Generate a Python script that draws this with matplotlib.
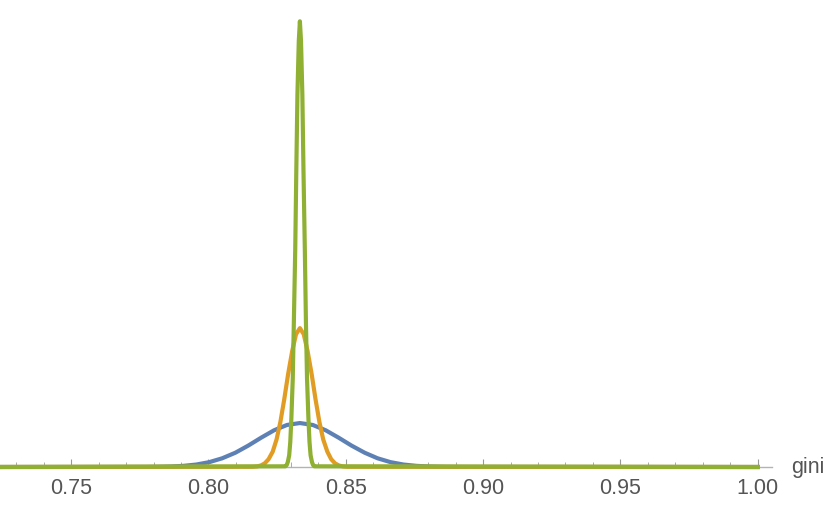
import matplotlib
matplotlib.use('Agg')
import matplotlib.pyplot as plt
from matplotlib.ticker import MultipleLocator

# values (y has no scale, arbitrary density units)
blue_x = [0.72, 0.7768, 0.7815, 0.7862, 0.7909, 0.7956, 0.8003, 0.8050, 0.8098, 0.8145,
          0.8192, 0.8239, 0.8286, 0.8333, 0.8380, 0.8427, 0.8474, 0.8521, 0.8569, 0.8616,
          0.8663, 0.8710, 0.8757, 0.8804, 0.8851, 0.8898, 1.00]
blue_y = [0.0, 0.04, 0.12, 0.32, 0.75, 1.62, 3.19, 5.72, 9.38, 14.07,
          19.28, 24.14, 27.63, 28.90, 27.63, 24.14, 19.28, 14.07, 9.38, 5.72,
          3.19, 1.62, 0.75, 0.32, 0.12, 0.04, 0.0]

orange_x = [0.72, 0.8162, 0.8177, 0.8191, 0.8205, 0.8219, 0.8234, 0.8248, 0.8262, 0.8276,
            0.8290, 0.8305, 0.8319, 0.8333, 0.8347, 0.8361, 0.8376, 0.8390, 0.8404, 0.8418,
            0.8433, 0.8447, 0.8461, 0.8475, 0.8489, 0.8504, 1.00]
orange_y = [0.0, 0.14, 0.39, 1.01, 2.38, 5.12, 10.07, 18.07, 29.64, 44.44,
            60.90, 76.26, 87.28, 91.30, 87.28, 76.26, 60.90, 44.44, 29.64, 18.07,
            10.07, 5.12, 2.38, 1.01, 0.39, 0.14, 0.0]

green_x = [0.72, 0.8280, 0.8285, 0.8289, 0.8294, 0.8298, 0.8302, 0.8307, 0.8311, 0.8316,
           0.8320, 0.8324, 0.8329, 0.8333, 0.8337, 0.8342, 0.8346, 0.8351, 0.8355, 0.8359,
           0.8364, 0.8368, 0.8372, 0.8377, 0.8381, 0.8386, 1.00]
green_y = [0.0, 0.45, 1.27, 3.26, 7.65, 16.4, 32.3, 58.0, 95.1, 142.6,
           195.4, 244.7, 280.1, 293.0, 280.1, 244.7, 195.4, 142.6, 95.1, 58.0,
           32.3, 16.4, 7.65, 3.26, 1.27, 0.45, 0.0]

COLORS = ['#5E81B5', '#E19C24', '#8FB032']

plt.rcParams['font.family'] = ['Liberation Sans', 'DejaVu Sans']

fig = plt.figure(figsize=(8.3, 5.08), dpi=100)
ax = fig.add_axes([0.0, 41 / 508, 771.7 / 830, 467 / 508])

for xs, ys, c in zip([blue_x, orange_x, green_x], [blue_y, orange_y, green_y], COLORS):
    ax.plot(xs, ys, color=c, lw=3.0, clip_on=False, solid_joinstyle='round')

ax.set_xlim(0.7241, 1.0051)
ax.set_ylim(0, 307)

for s in ['top', 'right', 'left']:
    ax.spines[s].set_visible(False)
ax.spines['bottom'].set_color('#b3b3b3')
ax.spines['bottom'].set_linewidth(1.0)
ax.spines['bottom'].set_zorder(0)
ax.set_yticks([])

ax.xaxis.set_major_locator(MultipleLocator(0.05))
ax.xaxis.set_minor_locator(MultipleLocator(0.01))
ax.xaxis.set_major_formatter(lambda v, p: '{:.2f}'.format(v))
ax.tick_params(axis='x', which='major', direction='in', length=6, width=0.8,
               color='#999999', labelsize=15.5, labelcolor='#555555', pad=8)
ax.tick_params(axis='x', which='minor', direction='in', length=3.5, width=0.7,
               color='#aaaaaa')

fig.text(791 / 830, 1 - 467 / 508, 'gini', fontsize=15.5, color='#555555',
         ha='left', va='center')

fig.savefig('out.png', dpi=100)
